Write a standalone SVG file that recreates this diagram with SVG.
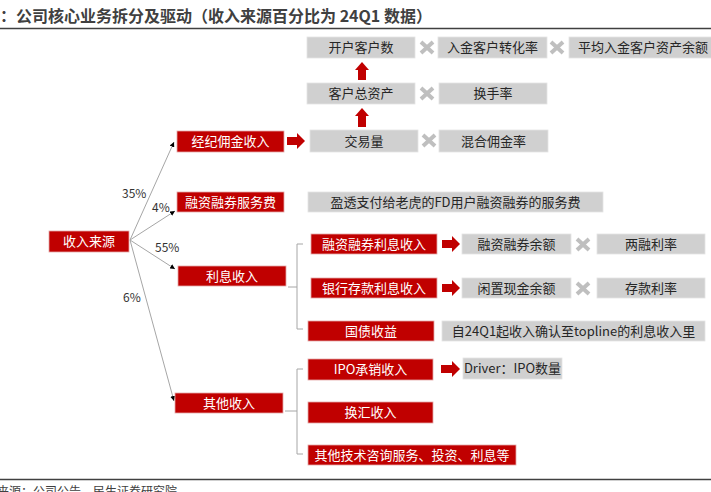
<svg xmlns="http://www.w3.org/2000/svg" width="711" height="492" viewBox="0 0 711 492">
<style>
text{font-family:"Noto Sans CJK SC","Noto Sans",sans-serif;}
.title{font-size:16px;font-weight:bold;fill:#404040;}
.src{font-size:12px;fill:#404040;}
.red rect{fill:#C00000;stroke:#E3A9A9;stroke-width:0.8;}
.red text{fill:#FFFFFF;font-size:13px;text-anchor:middle;}
.gray rect{fill:#D0D0D0;stroke:#E4E4E4;stroke-width:0.8;}
.gray text{fill:#262626;font-size:13px;text-anchor:middle;}
.pct{font-size:12px;fill:#333333;}
.conn{stroke:#A6A6A6;stroke-width:1;fill:none;}
.br{stroke:#A6A6A6;stroke-width:1;fill:none;}
.arr{fill:#C00000;}
.mul{stroke:#BFBFBF;stroke-width:4;stroke-linecap:butt;}
</style>
<defs>
<marker id="ah" viewBox="0 0 6 6" refX="6" refY="3" markerWidth="5" markerHeight="5" orient="auto" markerUnits="userSpaceOnUse">
<path d="M0,0 L6,3 L0,6 Z" fill="#000"/>
</marker>
</defs>

<rect x="0" y="0" width="711" height="492" fill="#FFFFFF"/>
<text class="title" x="0" y="22">：公司核心业务拆分及驱动（收入来源百分比为 24Q1 数据）</text>
<line x1="0" y1="28.5" x2="711" y2="28.5" stroke="#404040" stroke-width="1.5"/>
<line x1="0" y1="479.5" x2="711" y2="479.5" stroke="#404040" stroke-width="1.5"/>
<text class="src" x="-3" y="496">来源：公司公告，民生证券研究院</text>

<g id="connectors">
<path class="conn" d="M130,240 L174,142" marker-end="url(#ah)"/>
<path class="conn" d="M130,240 L175,211" marker-end="url(#ah)"/>
<path class="conn" d="M130,240 L175,269" marker-end="url(#ah)"/>
<path class="conn" d="M130,240 L174,401" marker-end="url(#ah)"/>
<path class="br" d="M303,244 H297 V329 H303 M288,287 H297"/>
<path class="br" d="M303,369 H297 V454 H303 M285,411 H297"/>
<!-- red block arrows -->
<path class="arr" d="M287,137 H297 V133 L305,141 L297,149 V145 H287 Z"/>
<path class="arr" d="M442,240 H452 V236 L460,244 L452,252 V248 H442 Z"/>
<path class="arr" d="M442,284 H452 V280 L460,288 L452,296 V292 H442 Z"/>
<path class="arr" d="M441,365 H452 V361 L460,369 L452,377 V373 H441 Z"/>
<path class="arr" d="M358,80 V70 H355 L362,62 L369,70 H366 V80 Z"/>
<path class="arr" d="M358,127 V116 H355 L362,108 L369,116 H366 V127 Z"/>
<!-- multiply signs -->
<g class="mul">
<path d="M421,42 L433,53 M433,42 L421,53"/>
<path d="M551,42 L563,53 M563,42 L551,53"/>
<path d="M421,88 L433,99 M433,88 L421,99"/>
<path d="M423,135 L435,146 M435,135 L423,146"/>
<path d="M577,239 L589,250 M589,239 L577,250"/>
<path d="M577,283 L589,294 M589,283 L577,294"/>
</g>
</g>

<g id="pcts">
<text class="pct" x="122" y="198">35%</text>
<text class="pct" x="152" y="212">4%</text>
<text class="pct" x="155" y="252">55%</text>
<text class="pct" x="123" y="302">6%</text>
</g>

<g id="n-root" class="red"><rect x="49" y="231" width="80" height="21"/><text x="89" y="246">收入来源</text></g>
<g id="n-broker" class="red"><rect x="177" y="131" width="107" height="21"/><text x="230.5" y="146">经纪佣金收入</text></g>
<g id="n-mfee" class="red"><rect x="177" y="192" width="107" height="20"/><text x="230.5" y="206.5">融资融券服务费</text></g>
<g id="n-interest" class="red"><rect x="178" y="266" width="108" height="20"/><text x="232" y="280.5">利息收入</text></g>
<g id="n-other" class="red"><rect x="175" y="393" width="108" height="20"/><text x="229" y="407.5">其他收入</text></g>

<g id="n-open" class="gray"><rect x="307" y="37" width="108" height="21"/><text x="361" y="52">开户客户数</text></g>
<g id="n-conv" class="gray"><rect x="438" y="37" width="109" height="21"/><text x="492.5" y="52">入金客户转化率</text></g>
<g id="n-avg" class="gray"><rect x="569" y="37" width="150" height="21"/><text x="578" y="52" style="text-anchor:start">平均入金客户资产余额</text></g>
<g id="n-assets" class="gray"><rect x="307" y="83" width="108" height="21"/><text x="361" y="98">客户总资产</text></g>
<g id="n-turn" class="gray"><rect x="439" y="83" width="108" height="21"/><text x="493" y="98">换手率</text></g>
<g id="n-vol" class="gray"><rect x="310" y="130" width="108" height="22"/><text x="364" y="145.5">交易量</text></g>
<g id="n-comm" class="gray"><rect x="439" y="130" width="109" height="22"/><text x="493.5" y="145.5">混合佣金率</text></g>
<g id="n-ib" class="gray"><rect x="308" y="192" width="295" height="20"/><text x="455.5" y="206.5">盈透支付给老虎的FD用户融资融券的服务费</text></g>

<g id="n-mint" class="red"><rect x="311" y="234" width="126" height="20"/><text x="374" y="248.5">融资融券利息收入</text></g>
<g id="n-mbal" class="gray"><rect x="462" y="234" width="109" height="20"/><text x="516.5" y="248.5">融资融券余额</text></g>
<g id="n-mrate" class="gray"><rect x="597" y="234" width="108" height="20"/><text x="651" y="248.5">两融利率</text></g>
<g id="n-bint" class="red"><rect x="311" y="278" width="126" height="20"/><text x="374" y="292.5">银行存款利息收入</text></g>
<g id="n-cash" class="gray"><rect x="462" y="278" width="109" height="20"/><text x="516.5" y="292.5">闲置现金余额</text></g>
<g id="n-drate" class="gray"><rect x="597" y="278" width="108" height="20"/><text x="651" y="292.5">存款利率</text></g>
<g id="n-bond" class="red"><rect x="308" y="321" width="126" height="20"/><text x="371" y="335.5">国债收益</text></g>
<g id="n-bondnote" class="gray"><rect x="442" y="321" width="263" height="20"/><text x="573.5" y="335.5">自24Q1起收入确认至topline的利息收入里</text></g>

<g id="n-ipo" class="red"><rect x="308" y="359" width="125" height="21"/><text x="370.5" y="374">IPO承销收入</text></g>
<g id="n-ipodrv" class="gray"><rect x="463" y="358" width="99" height="21"/><text x="512.5" y="373">Driver：IPO数量</text></g>
<g id="n-fx" class="red"><rect x="308" y="402" width="125" height="21"/><text x="370.5" y="417">换汇收入</text></g>
<g id="n-misc" class="red"><rect x="308" y="445" width="208" height="20"/><text x="412" y="459.5">其他技术咨询服务、投资、利息等</text></g>
</svg>
